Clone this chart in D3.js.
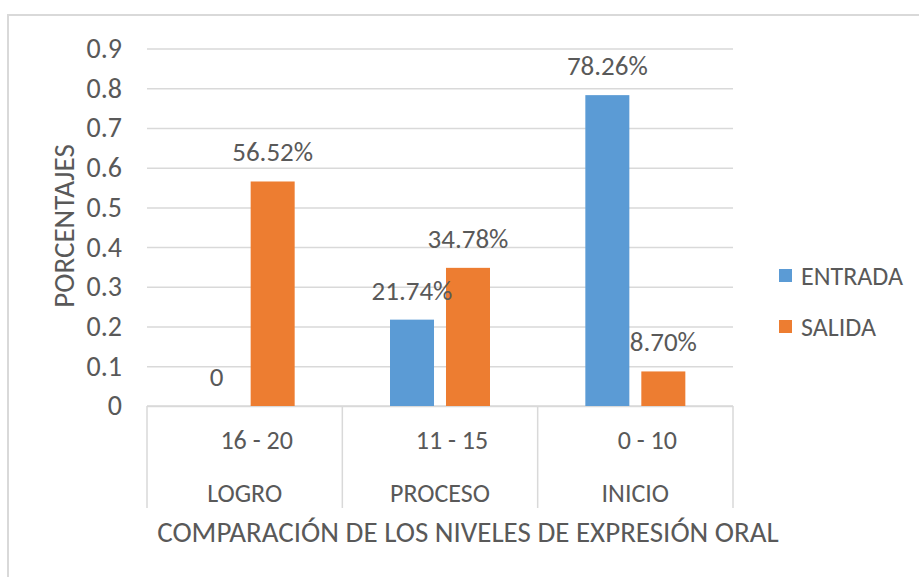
<!DOCTYPE html>
<html>
<head>
<meta charset="utf-8">
<script src="https://cdn.jsdelivr.net/npm/d3@7"></script>
<style>
  body { margin: 0; background: #fff; }
  svg { display: block; }
  text { font-family: Carlito, Calibri, Lato, sans-serif; fill: #595959; }
</style>
</head>
<body>
<div id="chart"></div>
<script>
// datos
var niveles = ["LOGRO", "PROCESO", "INICIO"];
var rangos = ["16 - 20", "11 - 15", "0 - 10"];
var series = ["ENTRADA", "SALIDA"];
var entrada = [0, 0.2174, 0.7826];
var salida = [0.5652, 0.3478, 0.0870];
var yTicks = [0, 0.1, 0.2, 0.3, 0.4, 0.5, 0.6, 0.7, 0.8, 0.9];
var colores = ["#5b9bd5", "#ed7d31"];

var W = 919, H = 577;
var margin = {top: 48.5, right: 186, bottom: 171, left: 147};
var width = W - margin.left - margin.right,
    height = H - margin.top - margin.bottom;

var svg = d3.select("#chart").append("svg")
    .attr("width", W)
    .attr("height", H);

// marco exterior
svg.append("rect")
    .attr("x", 8).attr("y", 15)
    .attr("width", W).attr("height", H)
    .attr("fill", "none")
    .attr("stroke", "#d9d9d9")
    .attr("stroke-width", 2);

var g = svg.append("g")
    .attr("transform", "translate(" + margin.left + "," + margin.top + ")");

var x = d3.scaleBand().domain(niveles).range([0, width]);
var x1 = d3.scaleBand().domain(series)
    .range([(x.bandwidth() - 100) / 2, (x.bandwidth() + 100) / 2])
    .paddingInner(0.214);
var y = d3.scaleLinear().domain([0, 0.9]).range([height, 0]);

// rejilla + etiquetas eje y
var yAxis = g.append("g")
    .call(d3.axisLeft(y).tickValues(yTicks).tickSize(-width).tickPadding(25)
      .tickFormat(function(d) { return d === 0 ? "0" : d.toFixed(1); }));
yAxis.select(".domain").remove();
yAxis.selectAll("line").attr("stroke", "#d9d9d9").attr("stroke-width", 1.5);
yAxis.selectAll("text").style("font-size", "28px").attr("fill", "#595959");

// eje x de dos niveles
var xAxis = g.append("g")
    .attr("transform", "translate(0," + height + ")");
xAxis.append("line")
    .attr("x1", 0).attr("x2", width)
    .attr("stroke", "#d9d9d9").attr("stroke-width", 1.5);
xAxis.selectAll(".sep")
    .data(d3.range(niveles.length + 1))
    .enter().append("line")
    .attr("class", "sep")
    .attr("x1", function(i) { return i * x.step(); })
    .attr("x2", function(i) { return i * x.step(); })
    .attr("y1", 0).attr("y2", 102)
    .attr("stroke", "#d9d9d9").attr("stroke-width", 1.5);
xAxis.selectAll(".rango")
    .data(niveles)
    .enter().append("text")
    .attr("class", "rango")
    .attr("x", function(d) { return x(d) + x.bandwidth() / 2 + 12; })
    .attr("y", 34)
    .attr("dy", "0.35em")
    .attr("text-anchor", "middle")
    .style("font-size", "26px")
    .text(function(d, i) { return rangos[i]; });
xAxis.selectAll(".nivel")
    .data(niveles)
    .enter().append("text")
    .attr("class", "nivel")
    .attr("x", function(d) { return x(d) + x.bandwidth() / 2; })
    .attr("y", 87)
    .attr("dy", "0.35em")
    .attr("text-anchor", "middle")
    .style("font-size", "26px")
    .text(function(d) { return d; });

// barras
var filas = niveles.map(function(n, i) {
  return {nivel: n, valores: [entrada[i], salida[i]]};
});
var grupo = g.selectAll(".grupo")
    .data(filas)
    .enter().append("g")
    .attr("class", "grupo")
    .attr("transform", function(d) { return "translate(" + x(d.nivel) + ",0)"; });

var celdas = grupo.selectAll(".celda")
    .data(function(d) { return d.valores.map(function(v, j) { return {serie: series[j], v: v, j: j}; }); })
    .enter();

celdas.append("rect")
    .attr("x", function(d) { return x1(d.serie); })
    .attr("y", function(d) { return y(d.v); })
    .attr("width", x1.bandwidth())
    .attr("height", function(d) { return height - y(d.v); })
    .attr("fill", function(d) { return colores[d.j]; });

var fmt = d3.format(".2%");
celdas.append("text")
    .attr("x", function(d) { return x1(d.serie) + x1.bandwidth() / 2; })
    .attr("y", function(d) { return y(d.v) - 20; })
    .attr("text-anchor", "middle")
    .style("font-size", "27px")
    .text(function(d) { return d.v === 0 ? "0" : fmt(d.v); });

// titulos de ejes
svg.append("text")
    .attr("x", 468).attr("y", 532)
    .attr("dy", "0.35em")
    .attr("text-anchor", "middle")
    .style("font-size", "29px")
    .text("COMPARACIÓN DE LOS NIVELES DE EXPRESIÓN ORAL");

svg.append("text")
    .attr("transform", "translate(64,226) rotate(-90)")
    .attr("dy", "0.35em")
    .attr("text-anchor", "middle")
    .style("font-size", "29px")
    .text("PORCENTAJES");

// leyenda
var leyenda = svg.append("g").attr("transform", "translate(779,269)");
var item = leyenda.selectAll(".item")
    .data(series)
    .enter().append("g")
    .attr("class", "item")
    .attr("transform", function(d, i) { return "translate(0," + (i * 51) + ")"; });
item.append("rect")
    .attr("width", 13).attr("height", 13)
    .attr("fill", function(d, i) { return colores[i]; });
item.append("text")
    .attr("x", 22).attr("y", 7)
    .attr("dy", "0.35em")
    .style("font-size", "26px")
    .text(function(d) { return d; });
</script>
</body>
</html>
